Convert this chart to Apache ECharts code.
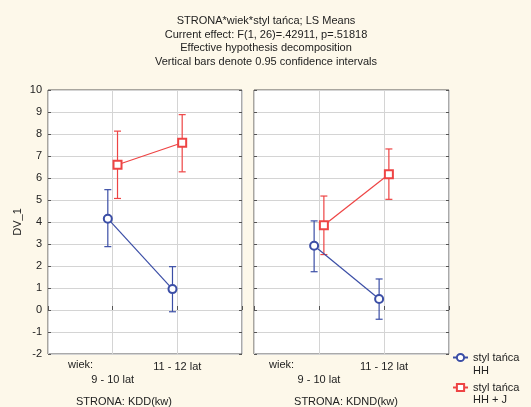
<!DOCTYPE html>
<html><head><meta charset="utf-8">
<script src="https://cdn.jsdelivr.net/npm/echarts@6/dist/echarts.min.js"></script>
<style>html,body{margin:0;padding:0;background:#fdf8ea;}#c{width:531px;height:407px;}</style>
</head><body><div id="c"></div>
<script>
const titleLines = ['STRONA*wiek*styl tańca; LS Means','Current effect: F(1, 26)=.42911, p=.51818','Effective hypothesis decomposition','Vertical bars denote 0.95 confidence intervals'];
const ageLabels = ['9 - 10 lat','11 - 12 lat'];
const panels = ['STRONA: KDD(kw)','STRONA: KDND(kw)'];
const seriesNames = ['styl tańca HH','styl tańca HH + J'];
const legendLine1 = ['styl tańca','styl tańca'];
const legendLine2 = ['HH','HH + J'];
// panel 0 (KDD), panel 1 (KDND): means and CI bounds per age group
const hhMean = [[4.15, 0.95],[2.92, 0.5]];
const hhLow  = [[2.88, -0.08],[1.74, -0.42]];
const hhHigh = [[5.47, 1.97],[4.05, 1.41]];
const hjMean = [[6.6, 7.6],[3.85, 6.17]];
const hjLow  = [[5.07, 6.28],[2.52, 5.03]];
const hjHigh = [[8.13, 8.88],[5.18, 7.32]];
const yMin = -2, yMax = 10;

const blue = '#3b4ea6', red = '#ee4444';
const F = 'Liberation Sans, Arial, sans-serif';
const off = 0.075;

function errSeries(idx, lows, highs, shift, color, name){
  const data = lows[idx].map((l,i)=>[i+1+shift, l, highs[idx][i]]);
  return {
    type:'custom', name:name, xAxisIndex:idx, yAxisIndex:idx*2, data:data, z:3,
    itemStyle:{color:color},
    renderItem:function(params, api){
      const x = api.value(0);
      const p1 = api.coord([x, api.value(1)]);
      const p2 = api.coord([x, api.value(2)]);
      const w = 3.5;
      const st = {stroke:color, lineWidth:1.2};
      return {type:'group', children:[
        {type:'line', shape:{x1:p1[0],y1:p1[1],x2:p2[0],y2:p2[1]}, style:st},
        {type:'line', shape:{x1:p1[0]-w,y1:p1[1],x2:p1[0]+w,y2:p1[1]}, style:st},
        {type:'line', shape:{x1:p2[0]-w,y1:p2[1],x2:p2[0]+w,y2:p2[1]}, style:st}
      ]};
    },
    encode:{x:0, y:[1,2]}
  };
}
function lineSeries(idx, means, shift, color, name, symbol){
  return {
    type:'line', name:name, xAxisIndex:idx, yAxisIndex:idx*2, z:4,
    data: means[idx].map((v,i)=>[i+1+shift, v]),
    symbol:symbol, symbolSize:8, showSymbol:true,
    lineStyle:{color:color, width:1.2},
    itemStyle:{color:color, borderColor:color, borderWidth:1.3},
    emphasis:{disabled:true}
  };
}

const grids = [
  {left:48, right:289, top:90, bottom:53},
  {left:254, right:82, top:90, bottom:53}
];
const xAxes = [0,1].map(i=>({
  gridIndex:i, type:'value', min:0, max:3, interval:1,
  axisLine:{show:false},
  axisTick:{show:true, inside:true, length:4, lineStyle:{color:'#555'}},
  splitLine:{show:true, lineStyle:{color:'#d4d4d4'}},
  axisLabel:{show:true, color:'#222', fontFamily:F, fontSize:11, margin:6, lineHeight:13,
    formatter:function(v){ if(v===1) return '\n'+ageLabels[0]; if(v===2) return ageLabels[1]; return ''; }}
}));
const yAxes = [];
[0,1].forEach(i=>{
  yAxes.push({
    gridIndex:i, type:'value', min:yMin, max:yMax, interval:1, position:'left',
    name: i===0 ? 'DV_1' : '', nameLocation:'middle', nameGap:25, nameRotate:90,
    nameTextStyle:{color:'#222', fontFamily:F, fontSize:11},
    axisLine:{show:false},
    axisTick:{show:true, inside:true, length:3, lineStyle:{color:'#555'}},
    splitLine:{show:true, lineStyle:{color:'#d4d4d4'}},
    axisLabel:{show:i===0, color:'#222', fontFamily:F, fontSize:11, margin:6}
  });
  yAxes.push({
    gridIndex:i, type:'value', min:yMin, max:yMax, interval:1, position:'right',
    axisLine:{show:false},
    axisTick:{show:true, inside:true, length:3, lineStyle:{color:'#555'}},
    splitLine:{show:false}, axisLabel:{show:false}
  });
});

const series = [];
[0,1].forEach(i=>{
  series.push(lineSeries(i, hhMean, -off, blue, seriesNames[0], 'emptyCircle'));
  series.push(lineSeries(i, hjMean, off, red, seriesNames[1], 'emptyRect'));
});
[0,1].forEach(i=>{
  series.push(errSeries(i, hhLow, hhHigh, -off, blue, seriesNames[0]));
  series.push(errSeries(i, hjLow, hjHigh, off, red, seriesNames[1]));
});

const txt = (x, y, text, align) => ({type:'text', x:x, y:y, style:{text:text, fontFamily:F, fontSize:11, fill:'#222', align:align||'left', verticalAlign:'middle'}});

const chart = echarts.init(document.getElementById('c'), null, {renderer:'canvas'});
chart.setOption({
  backgroundColor:'#fdf8ea',
  animation:false,
  grid: grids.map(g=>Object.assign({show:true, backgroundColor:'#fff', borderColor:'#555', borderWidth:1}, g)),
  xAxis:xAxes, yAxis:yAxes, series:series,
  legend:[0,1].map(k=>({
    left:452, top:k===0 ? 352 : 382, padding:0, itemWidth:15, itemHeight:9,
    data:[seriesNames[k]], selectedMode:false,
    formatter:function(){ return legendLine1[k]; },
    textStyle:{fontFamily:F, fontSize:11, color:'#222'}
  })),
  graphic:[
    txt(266, 21, titleLines[0], 'center'),
    txt(266, 34.5, titleLines[1], 'center'),
    txt(266, 48, titleLines[2], 'center'),
    txt(266, 61.5, titleLines[3], 'center'),
    txt(68, 365, 'wiek:'),
    txt(269, 365, 'wiek:'),
    txt(124, 402, panels[0], 'center'),
    txt(346, 402, panels[1], 'center'),
    txt(473, 371, legendLine2[0]),
    txt(473, 400, legendLine2[1])
  ]
});
</script></body></html>
